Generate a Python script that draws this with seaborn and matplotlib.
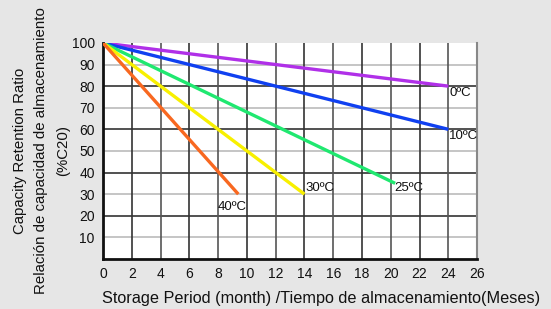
import matplotlib
matplotlib.use("Agg")
import matplotlib.pyplot as plt
import seaborn as sns
import pandas as pd

sns.set_style("white")
plt.rcParams['font.family'] = ['Liberation Sans', 'DejaVu Sans']

# data: start/end points of each temperature line
temps = ["0ºC", "10ºC", "25ºC", "30ºC", "40ºC"]
months_end = [24, 24, 20.3, 14, 9.4]
capacity_end = [80, 60, 35, 30, 30]
colors = ["#b030e8", "#1040f0", "#20e870", "#f8f000", "#f86820"]
label_xy = [(24.05, 77), (24.05, 57), (20.25, 33), (14.05, 33), (8.0, 24)]
x_ticks = list(range(0, 27, 2))
y_ticks = list(range(10, 101, 10))

rows = []
for t, me, ce in zip(temps, months_end, capacity_end):
    rows.append({"temp": t, "month": 0, "cap": 100})
    rows.append({"temp": t, "month": me, "cap": ce})
df = pd.DataFrame(rows)

fig = plt.figure(figsize=(5.51, 3.09), dpi=100)
fig.patch.set_facecolor("#e6e6e6")
ax = fig.add_axes([0.187, 0.162, 0.679, 0.699])
ax.set_facecolor("white")

# grid
for y in range(10, 100, 10):
    c = "#333333" if y % 20 == 0 else "#bbbbbb"
    ax.axhline(y, color=c, lw=1.2, zorder=1)
for i, x in enumerate(range(2, 26, 2)):
    ax.axvline(x, color="#333333" if i % 2 == 0 else "#555555", lw=1.2, zorder=1)

sns.lineplot(data=df, x="month", y="cap", hue="temp", palette=colors,
             hue_order=temps, lw=2.4, legend=False, ax=ax, zorder=3)
for line in ax.lines[-len(temps):]:
    line.set_solid_capstyle("butt")

for t, (lx, ly) in zip(temps, label_xy):
    ax.text(lx, ly, t, fontsize=9.5, ha="left", va="center", color="#111111")

ax.set_xlim(0, 26)
ax.set_ylim(0, 100)
ax.set_xticks(x_ticks)
ax.set_yticks(y_ticks)
ax.tick_params(length=0, labelsize=10, colors="#111111", pad=6)
for s in ["left", "bottom"]:
    ax.spines[s].set_color("#111111")
    ax.spines[s].set_linewidth(2)
ax.spines["top"].set_visible(False)
ax.spines["right"].set_color("#888888")
ax.spines["right"].set_linewidth(1.5)

ax.set_xlabel("Storage Period (month) /Tiempo de almacenamiento(Meses)",
              fontsize=11.7, color="#111111")
ax.xaxis.set_label_coords(0.583, -0.15)
ax.set_ylabel("Capacity Retention Ratio\nRelación de capacidad de almacenamiento\n(%C20)",
              fontsize=10.8, color="#111111", linespacing=1.66)
ax.yaxis.set_label_coords(-0.089, 0.5)

fig.savefig("out.png", dpi=100, facecolor=fig.get_facecolor())
